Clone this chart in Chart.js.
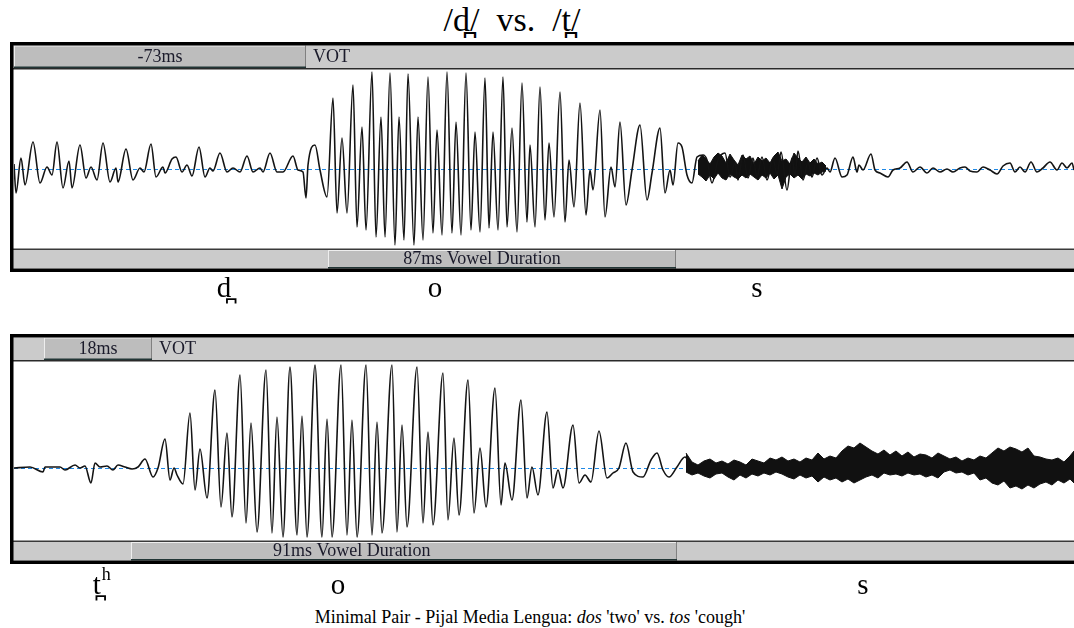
<!DOCTYPE html>
<html>
<head>
<meta charset="utf-8">
<script src="https://cdn.jsdelivr.net/npm/chart.js@4.4.1/dist/chart.umd.min.js"></script>
<style>
  html, body { margin: 0; padding: 0; background: #fff; }
  body { width: 1074px; height: 628px; position: relative; overflow: hidden;
         font-family: "Liberation Serif", "DejaVu Serif", serif; color: #000; }
  canvas { position: absolute; left: 0; }
  #dos { top: 40px; }
  #tos { top: 331px; }
  .title { position: absolute; top: 1px; left: 0; width: 1024px; text-align: center;
           font-size: 34px; white-space: pre; }
  .caption { position: absolute; top: 607px; left: 0; width: 1060px; text-align: center;
             font-size: 18px; white-space: pre; }
</style>
</head>
<body>
<div class="title">/d̪/  vs.  /t̪/</div>
<canvas id="dos" width="1074" height="272"></canvas>
<canvas id="tos" width="1074" height="273"></canvas>
<div class="caption">Minimal Pair - Pijal Media Lengua: <i>dos</i> 'two' vs. <i>tos</i> 'cough'</div>
<script>
// "dos": waveform turning points [time ms, amplitude]
const dosWave = [
  [0,.05],[.5,-.24],[1.75,.11],[2.75,-.16],[4.75,.27],[6.5,-.14],[8.25,.02],[9.5,-.06],[10.75,.27],[12.25,-.19],
  [13.75,.08],[14.5,-.19],[16.5,.24],[18,-.09],[19.25,.02],[20.75,-.11],[22.25,.26],[24,-.13],[25.5,.01],[26,-.13],
  [28,.2],[29.75,-.11],[31.5,.01],[32.5,-.03],[34.25,.25],[35.5,-.08],[37.25,.02],[37.75,-.04],[39.5,.1],[40.5,.12],
  [42,-.03],[43.25,.04],[44.5,-.07],[46.25,.22],[47.75,-.08],[49,.01],[49.75,-.02],[51.5,.16],[53.25,-.03],[54.75,.01],
  [56.5,-.03],[58.25,.13],[59.75,-.03],[61.5,.01],[62.25,-.03],[64,.16],[65.75,-.03],[67.25,-.03],[69.75,.13],[71,-.01],
  [72.25,-.03],[73,-.29],[73.5,.04],[75.25,.24],[76.5,-.01],[78.25,-.28],[79.75,.71],[80.75,-.44],[82,.31],[83.25,-.44],
  [84.75,.84],[85.75,-.58],[87,.42],[88,-.61],[89.5,.97],[90.5,-.68],[91.75,.52],[92.75,-.68],[94,.96],[95.25,-.76],
  [96.25,.52],[97.5,-.71],[98.5,.95],[100,-.76],[101,.52],[102.25,-.71],[103.5,.92],[104.75,-.64],[105.75,.39],[107,-.66],
  [108.25,.97],[109.5,-.64],[110.5,.47],[111.75,-.66],[113,.96],[114.25,-.61],[115.25,.37],[116.5,-.63],[117.75,.91],[118.75,-.59],
  [119.75,.37],[121,-.61],[122.25,.92],[123.25,-.58],[124.5,.41],[125.75,-.63],[127,.86],[128.25,-.53],[129,.24],[130.25,-.58],
  [131.5,.82],[132.75,-.51],[133.75,.26],[135,-.48],[136.5,.77],[137.75,-.53],[138.75,.09],[140,-.38],[141.5,.66],[143,-.46],
  [144,-.01],[144.75,-.21],[146.5,.59],[147.75,-.48],[149.25,.02],[150.25,-.18],[151.5,.47],[153,-.36],[154.5,-.01],[156.5,.44],
  [158.25,-.31],[159.5,-.04],[161.5,.41],[162.75,-.24],[164,-.01],[164.75,-.16],[166,.26],[167,.22],[168.25,-.06],[169.5,-.14],
  [170.75,.12],[172.25,.14],[173.25,.09],[174.5,-.14],[176,.09],[177.75,.16],[179,-.08],[180.25,.06],[181,-.11],[182.25,.14],
  [183.5,-.09],[184.75,.11],[185.75,-.08],[187,.12],[188.25,-.11],[189.75,.11],[190.75,-.06],[191.75,.17],[193.25,-.21],[194.5,.11],
  [195.25,-.06],[196,.18],[197.25,-.11],[198.5,.07],[199.5,-.08],[200.75,.11],[202,-.06],[203.25,.01],[204,-.03],[205.25,.11],
  [207,-.08],[208.25,-.06],[209.75,.12],[210.75,-.03],[211.25,.04],[212.25,-.01],[214.25,.15],[215.25,-.01],[216.5,-.04],[218.5,-.08],
  [219.75,-.01],[221.5,.01],[223.25,.07],[224.75,-.03],[226.5,.02],[228.25,-.04],[229.75,.01],[231.5,-.03],[233.25,0],[234.75,-.03],
  [236.5,.01],[237.75,.02],[239,-.02],[240.75,-.03],[242.25,.02],[244,-.01],[245.75,-.05],[247.25,.03],[249,.06],[250.25,-.03],
  [251.5,.02],[252.75,-.03],[254.25,.07],[255.75,-.03],[257.25,.01],[259,.07],[260.75,-.01],[262,.06],[263.25,.01],[264.5,.06],[265,-.01]
];
// "dos": frication noise envelope [time ms, top, bottom]
const dosNoise = [
  [171,.08,-.05],[172,.14,-.08],[173,.10,-.12],[174,.05,-.06],[175,.12,-.10],[176,.16,-.04],[177,.13,-.09],
  [178,.06,-.11],[179,.15,-.05],[180,.09,-.08],[181,.04,-.10],[182,.14,-.06],[183,.10,-.09],[184,.13,-.05],
  [185,.05,-.08],[186,.12,-.11],[187,.08,-.06],[188,.11,-.09],[189,.06,-.04],[190,.13,-.10],[191,.17,-.06],
  [192,.08,-.20],[193,.10,-.08],[194,.05,-.05],[195,.16,-.09],[196,.11,-.06],[197,.07,-.10],[198,.12,-.05],
  [199,.06,-.07],[200,.10,-.04],[201,.05,-.06],[202,.07,-.03],[203,.03,-.02]
];

// "tos": waveform turning points [time ms, amplitude]
const tosWave = [
  [0,0],[2.67,.01],[4.83,-.04],[5.17,.01],[7.67,.01],[8.5,-.02],[10.17,.03],[11,0],[11.83,.02],[12.83,-.15],
  [13.5,.05],[14.33,.01],[15.5,.02],[16.5,-.02],[17.33,.03],[18.5,.01],[19.67,-.01],[20.67,.01],[21.83,.09],[23.17,-.09],
  [24,0],[25.17,.29],[26,-.12],[26.67,0],[27.17,-.07],[28.17,-.16],[29.33,.55],[30.17,-.22],[31,.19],[32.17,-.3],
  [33.5,.78],[34.5,-.39],[35.5,.35],[36.33,-.49],[37.67,.93],[38.67,-.55],[39.5,.45],[40.5,-.64],[42,.98],[43,-.65],
  [43.83,.51],[44.83,-.69],[46,1.01],[47.17,-.67],[48,.52],[48.83,-.69],[50.17,1.03],[51.33,-.69],[52.17,.49],[53,-.69],
  [54.5,1.03],[55.5,-.67],[56.33,.48],[57.17,-.69],[58.67,1.03],[59.67,-.67],[60.5,.46],[61.33,-.65],[63,1.03],[63.83,-.64],
  [64.67,.43],[65.5,-.59],[67.17,1.01],[68.17,-.55],[69,.36],[69.83,-.57],[71.5,.95],[72.33,-.52],[73.33,.3],[74.17,-.47],
  [75.67,.88],[76.67,-.45],[77.67,.2],[78.67,-.39],[80.17,.8],[81.17,-.37],[81.83,.05],[83,-.32],[84.5,.68],[85.5,-.3],
  [86.33,.01],[87.33,-.27],[88.83,.56],[89.83,-.2],[90.67,-.02],[91.5,-.2],[93.17,.43],[94.17,-.15],[95.17,-.07],[96.17,-.14],
  [97.5,.37],[98.83,-.1],[99.83,-.05],[100.83,0],[102,.25],[103.17,-.04],[104.83,-.09],[106.17,.08],[107.17,.15],[108.17,-.02],
  [109.17,-.09],[110.5,.01],[111.83,.11],[112.67,.03]
];
// "tos": frication noise envelope [time ms, top, bottom]
const tosNoise = [
  [112,.15,-.04],[113,.06,-.07],[114,.03,-.05],[115,.07,-.08],[116,.09,-.10],[117,.05,-.06],[118,.07,-.05],
  [119,.04,-.09],[120,.08,-.12],[121,.06,-.07],[122,.03,-.10],[123,.09,-.06],[124,.07,-.08],[125,.05,-.05],
  [126,.10,-.07],[127,.08,-.04],[128,.11,-.06],[129,.07,-.09],[130,.09,-.11],[131,.06,-.07],[132,.10,-.10],
  [133,.08,-.08],[134,.15,-.14],[135,.09,-.09],[136,.12,-.12],[137,.10,-.10],[138,.17,-.14],[139,.22,-.11],
  [140,.20,-.15],[141,.25,-.12],[142,.21,-.09],[143,.17,-.07],[144,.14,-.10],[145,.18,-.05],[146,.13,-.07],
  [147,.17,-.06],[148,.12,-.08],[149,.16,-.05],[150,.11,-.07],[151,.14,-.06],[152,.13,-.09],[153,.10,-.07],
  [154,.15,-.10],[155,.12,-.04],[156,.09,-.02],[157,.11,-.05],[158,.07,-.04],[159,.10,-.07],[160,.08,-.05],
  [161,.12,-.12],[162,.10,-.10],[163,.15,-.15],[164,.20,-.17],[165,.17,-.13],[166,.21,-.20],[167,.19,-.18],
  [168,.16,-.21],[169,.20,-.17],[170,.12,-.20],[171,.11,-.16],[172,.09,-.14],[173,.08,-.17],[174,.10,-.12],
  [175,.06,-.15],[176,.12,-.11],[176.67,.17,-.15]
];

// measured intervals (ms) and segment labels
const dosVot = [0, 73];
const dosVowel = [78.5, 165.5];
const tosVot = [5, 23];
const tosVowel = [19.5, 110.5];
const dosSegments = ['d̪', 'o', 's'];
const dosSegmentAt = [52.5, 105.25, 185.75];
const tosSegments = ['t̪', 'o', 's'];
const tosSegmentAt = [13.8, 54, 141.5];

const SERIF = '"Liberation Serif", "DejaVu Serif", serif';

function strip(ctx, left, right, top, h, s0, s1) {
  ctx.fillStyle = '#cbcbcb';
  ctx.fillRect(left, top, right - left, h);
  ctx.fillStyle = '#bdbdbd';
  ctx.fillRect(s0, top, s1 - s0, h);
  ctx.fillStyle = '#eeeeee';
  ctx.fillRect(s0, top, s1 - s0, 1);
  ctx.fillRect(s0, top, 1, h);
  ctx.fillStyle = '#808080';
  ctx.fillRect(s1 - 1, top, 1, h);
  ctx.fillStyle = '#223636';
  ctx.fillRect(s0, top + h - 1.5, s1 - s0, 1.5);
}

const panelFrame = {
  id: 'panelFrame',
  beforeDatasetsDraw(chart) {
    const {ctx, chartArea: a, scales: {y}} = chart;
    const y0 = Math.round(y.getPixelForValue(0)) + 0.5;
    ctx.save();
    ctx.strokeStyle = '#1e88e5';
    ctx.lineWidth = 1.2;
    ctx.setLineDash([4, 3]);
    ctx.beginPath();
    ctx.moveTo(a.left, y0);
    ctx.lineTo(a.right, y0);
    ctx.stroke();
    ctx.restore();
  },
  afterDraw(chart, args, o) {
    const {ctx, chartArea: a, scales: {x}} = chart;
    const W = chart.width + 20;
    ctx.save();

    // VOT strip on top
    const v0 = x.getPixelForValue(o.vot[0]), v1 = x.getPixelForValue(o.vot[1]);
    strip(ctx, a.left - 1, W, a.top - 24.5, 22.5, Math.max(v0, a.left - 1), v1);
    ctx.fillStyle = '#2a2a2a';
    ctx.fillRect(a.left - 1, a.top - 2, W, 1.5);

    // vowel duration strip at the bottom
    const w0 = x.getPixelForValue(o.vowel[0]), w1 = x.getPixelForValue(o.vowel[1]);
    ctx.fillStyle = '#3a3a3a';
    ctx.fillRect(a.left - 1, a.bottom + 0.5, W, 1.5);
    strip(ctx, a.left - 1, W, a.bottom + 2, 18.5, w0, w1);

    // frame
    ctx.strokeStyle = '#000';
    ctx.lineWidth = 3.5;
    ctx.strokeRect(a.left - 2.25, a.top - 26.25, W, a.bottom - a.top + 48.5);

    // strip texts
    ctx.font = '18px ' + SERIF;
    ctx.fillStyle = '#1b1b2b';
    ctx.textBaseline = 'middle';
    ctx.textAlign = 'center';
    ctx.fillText(o.votText, (Math.max(v0, a.left) + v1) / 2, a.top - 12.5);
    ctx.textAlign = 'left';
    ctx.fillText('VOT', v1 + 7, a.top - 12.5);
    ctx.textAlign = 'center';
    ctx.fillText(o.vowelText, x.getPixelForValue(o.vowelTextAt), a.bottom + 11.5);

    // segment labels under the panel
    ctx.fillStyle = '#000';
    ctx.textBaseline = 'alphabetic';
    o.labels.forEach((lab, i) => {
      const px = x.getPixelForValue(o.labelAt[i]);
      ctx.font = '29px ' + SERIF;
      ctx.textAlign = 'center';
      ctx.fillText(lab, px, a.bottom + o.labelDy);
      if (o.sup && o.sup[i]) {
        const w = ctx.measureText(lab).width;
        ctx.font = '18px ' + SERIF;
        ctx.textAlign = 'left';
        ctx.fillText(o.sup[i], px + w / 2 + 1, a.bottom + o.labelDy - 14);
      }
    });
    ctx.restore();
  }
};

function waveChart(id, wave, noise, xMax, yMin, yMax, padTop, frame) {
  return new Chart(document.getElementById(id), {
    type: 'line',
    data: {
      datasets: [
        {
          data: wave.map(p => ({x: p[0], y: p[1]})),
          borderColor: '#141414', borderWidth: 1.6, pointRadius: 0,
          cubicInterpolationMode: 'monotone', fill: false
        },
        {
          data: noise.map(p => ({x: p[0], y: p[2]})),
          borderColor: '#111', borderWidth: 1, pointRadius: 0, fill: false
        },
        {
          data: noise.map(p => ({x: p[0], y: p[1]})),
          borderColor: '#111', borderWidth: 1, pointRadius: 0,
          fill: '-1', backgroundColor: '#111'
        }
      ]
    },
    options: {
      responsive: false,
      animation: false,
      devicePixelRatio: 1,
      events: [],
      layout: { padding: { top: padTop, bottom: 64, left: 14, right: 0 } },
      scales: {
        x: { type: 'linear', min: 0, max: xMax, display: false },
        y: { min: yMin, max: yMax, display: false }
      },
      plugins: {
        legend: { display: false },
        tooltip: { enabled: false },
        panelFrame: frame
      }
    },
    plugins: [panelFrame]
  });
}

waveChart('dos', dosWave, dosNoise, 265, -0.79, 0.99, 30, {
  vot: dosVot, votText: '-73ms',
  vowel: dosVowel, vowelText: '87ms Vowel Duration', vowelTextAt: 117,
  labels: dosSegments, labelAt: dosSegmentAt, labelDy: 49
});

waveChart('tos', tosWave, tosNoise, 176.67, -0.72, 1.06, 31, {
  vot: tosVot, votText: '18ms',
  vowel: tosVowel, vowelText: '91ms Vowel Duration', vowelTextAt: 56.3,
  labels: tosSegments, labelAt: tosSegmentAt, sup: ['h', '', ''], labelDy: 54
});
</script>
</body>
</html>
